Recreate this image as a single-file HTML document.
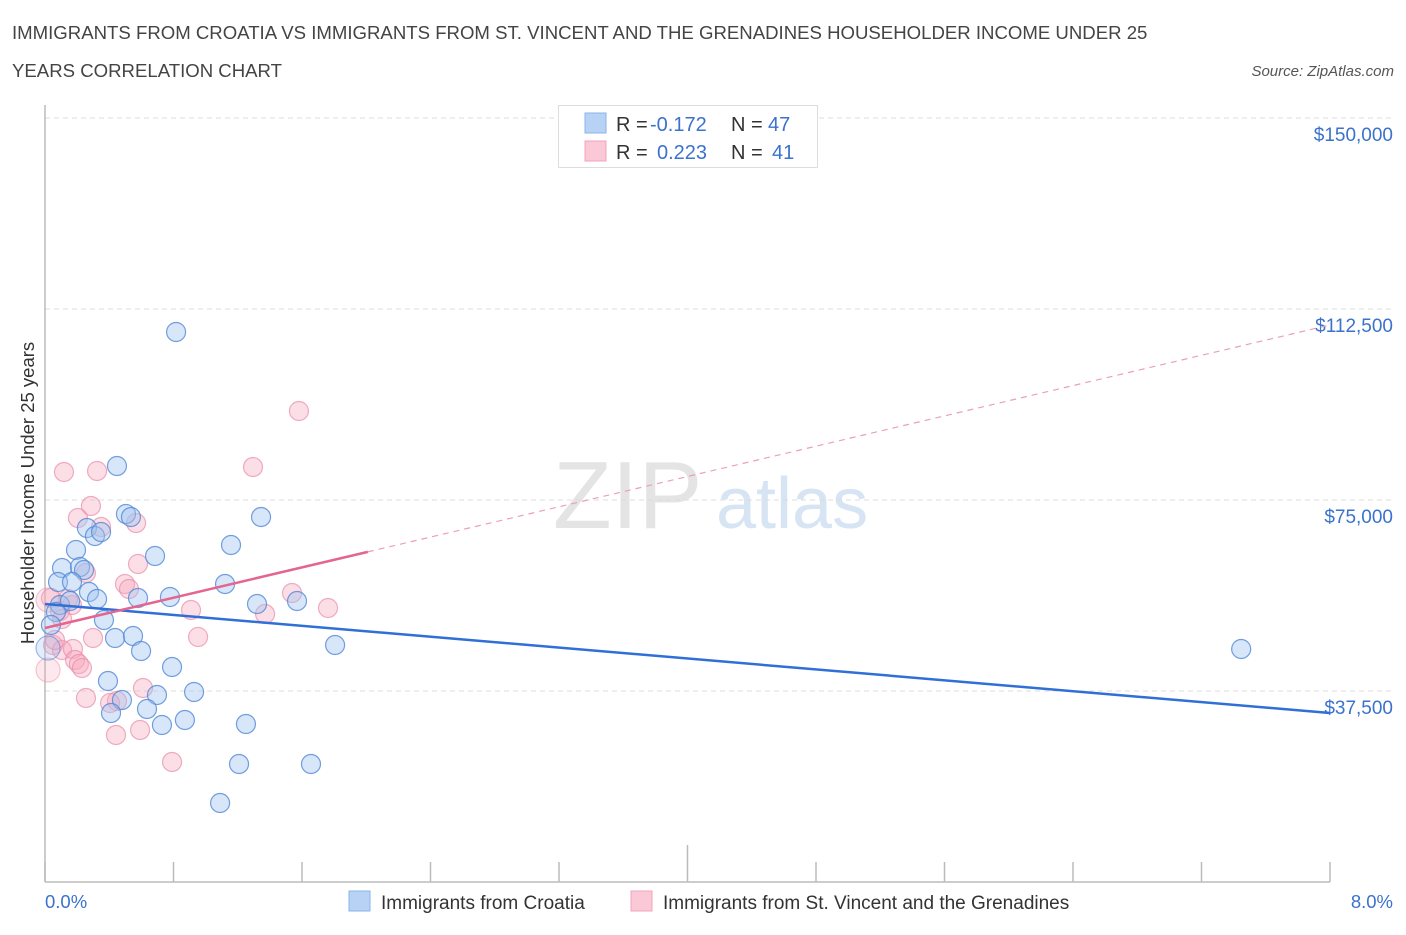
<!DOCTYPE html>
<html><head><meta charset="utf-8"><style>
body{margin:0;background:#fff;font-family:"Liberation Sans",sans-serif;}
svg text{font-family:"Liberation Sans",sans-serif;}
</style></head><body>
<svg id="chart" width="1406" height="930" xmlns="http://www.w3.org/2000/svg">
<text x="12" y="39" font-size="18.6" fill="#444">IMMIGRANTS FROM CROATIA VS IMMIGRANTS FROM ST. VINCENT AND THE GRENADINES HOUSEHOLDER INCOME UNDER 25</text>
<text x="12" y="77" font-size="18.6" fill="#444">YEARS CORRELATION CHART</text>
<text x="1394" y="76" font-size="15" fill="#555" font-style="italic" text-anchor="end">Source: ZipAtlas.com</text>
<g>
<text x="553" y="528" font-size="96" fill="#e4e4e4" font-family="Liberation Serif">ZIP</text>
<text x="716" y="528" font-size="72" fill="#d6e4f4">atlas</text>
</g>
<g id="grid"></g>
<g id="axes"></g>
<g id="marks"></g>
<g>
<rect x="558.5" y="105.5" width="259" height="62" fill="#fff" stroke="#ddd"/>
<rect x="585" y="113" width="21" height="20" fill="#b8d2f6" stroke="#8ab4ea"/>
<text x="616" y="131" font-size="20" fill="#333">R =</text>
<text x="650" y="131" font-size="20" fill="#3a72cc">-0.172</text>
<text x="731" y="131" font-size="20" fill="#333">N =</text>
<text x="768" y="131" font-size="20" fill="#3a72cc">47</text>
<rect x="585" y="141" width="21" height="20" fill="#fac8d6" stroke="#f0a4ba"/>
<text x="616" y="159" font-size="20" fill="#333">R =</text>
<text x="657" y="159" font-size="20" fill="#3a72cc">0.223</text>
<text x="731" y="159" font-size="20" fill="#333">N =</text>
<text x="772" y="159" font-size="20" fill="#3a72cc">41</text>
</g>
<g>
<rect x="349" y="891" width="21" height="20" fill="#b8d2f6" stroke="#8ab4ea"/>
<text x="381" y="909" font-size="19" fill="#333">Immigrants from Croatia</text>
<rect x="631" y="891" width="21" height="20" fill="#fac8d6" stroke="#f0a4ba"/>
<text x="663" y="909" font-size="19" fill="#333">Immigrants from St. Vincent and the Grenadines</text>
</g>
<text x="45" y="908" font-size="18.5" fill="#3a72cc">0.0%</text>
<text x="1393" y="908" font-size="18.5" fill="#3a72cc" text-anchor="end">8.0%</text>
<text transform="translate(34,493) rotate(-90)" font-size="18.5" fill="#333" text-anchor="middle">Householder Income Under 25 years</text>
</svg>
<script>
const yTicks=[37500,75000,112500,150000];
const yTickLabels=["$37,500","$75,000","$112,500","$150,000"];
const croatiaX=[0.816,0.448,0.504,0.535,1.345,0.261,0.311,0.349,0.193,1.158,0.685,0.106,0.218,0.243,0.081,0.168,1.121,0.274,0.324,0.579,0.778,1.320,1.569,0.093,0.156,0.068,0.367,0.037,0.436,0.548,0.598,1.806,7.447,0.019,0.791,0.392,0.928,0.479,0.697,0.411,0.635,0.728,0.871,1.251,1.208,1.656,1.090];
const croatiaY=[107990,81680,72250,71660,71660,69500,67930,68720,65190,66170,64010,61650,61850,61260,58900,58900,58510,56940,55560,55760,55960,54580,55170,54390,55170,53010,51440,50460,47910,48300,45350,46530,45750,45940,42210,39460,37310,35730,36720,33180,33970,30830,31810,31020,23170,23170,15510];
const vincentX=[1.581,0.118,0.324,1.295,0.286,0.205,0.349,0.567,0.579,0.255,0.498,0.523,1.538,0.909,1.762,1.370,0.168,0.093,0.143,0.037,0.106,0.299,0.953,0.050,0.106,0.174,0.187,0.211,0.230,0.019,0.255,0.448,0.610,0.592,0.442,0.791,0.019,0.405,0.062];
const vincentY=[92480,80500,80700,81480,73820,71470,69700,70490,62440,60670,58510,57530,56740,53400,53800,52620,54390,53210,55560,55760,51640,47910,48110,46530,45550,45750,43590,42800,42020,41620,36130,35540,38090,29840,28860,23560,55370,35140,47520];
const croatiaTrend=[54580,33180];
const vincentTrend=[49870,109360];
const vincentSolidEnd=2.01;
const NS="http://www.w3.org/2000/svg";
const X0=45,X1=1330,Y0=882,PX=191/37500;
const xs=v=>X0+(v/8)*(X1-X0);
const ys=v=>Y0-v*PX;
function mk(tag,attrs,parent){const e=document.createElementNS(NS,tag);for(const k in attrs)e.setAttribute(k,attrs[k]);parent.appendChild(e);return e;}
const grid=document.getElementById('grid'),axes=document.getElementById('axes'),marks=document.getElementById('marks');
yTicks.forEach((t,i)=>{
 const l=mk('line',{x1:X0,x2:1394,y1:ys(t),y2:ys(t),stroke:'#ddd','stroke-dasharray':'5,4'},grid);
 
 
 const tx=mk('text',{x:1393,y:ys(t)+23,'font-size':19,fill:'#3a72cc','text-anchor':'end'},grid);
 tx.textContent=yTickLabels[i];
 
 
});
const ax=mk('line',{x1:X0,x2:X0,y1:105,y2:Y0,stroke:'#bbb','stroke-width':1.5},axes);


const bx=mk('line',{x1:X0,x2:X1,y1:Y0,y2:Y0,stroke:'#bbb','stroke-width':1.5},axes);


for(let i=0;i<=10;i++){
 const v=i*0.8;
 const tk=mk('line',{x1:xs(v),x2:xs(v),y1:i==5?845:862,y2:Y0,stroke:'#bbb','stroke-width':1.5},axes);
 
 
}
function dots(X,Y,fill,stroke,name){
 X.forEach((x,i)=>{
  const big=x<0.03;
  const c=mk('circle',{cx:xs(x),cy:ys(Y[i]),r:big?12:9.5,fill:fill,stroke:stroke,'stroke-width':1.2,opacity:big?0.7:1},marks);
  
  
 });
}
dots(vincentX,vincentY,'rgba(246,168,190,0.38)','rgba(232,140,168,0.7)','point-stvincent');
dots(croatiaX,croatiaY,'rgba(160,196,240,0.42)','rgba(80,135,215,0.8)','point-croatia');
const bt=mk('line',{x1:xs(0),y1:ys(croatiaTrend[0]),x2:xs(8),y2:ys(croatiaTrend[1]),stroke:'#2f6fd6','stroke-width':2.5},marks);


const pv=x=>vincentTrend[0]+(vincentTrend[1]-vincentTrend[0])*x/8;
const ps=mk('line',{x1:xs(0),y1:ys(pv(0)),x2:xs(vincentSolidEnd),y2:ys(pv(vincentSolidEnd)),stroke:'#e36590','stroke-width':2.5},marks);


const pd=mk('line',{x1:xs(vincentSolidEnd),y1:ys(pv(vincentSolidEnd)),x2:xs(8),y2:ys(pv(8)),stroke:'#eaa0b8','stroke-width':1.2,'stroke-dasharray':'6,5'},marks);


</script>
</body></html>
